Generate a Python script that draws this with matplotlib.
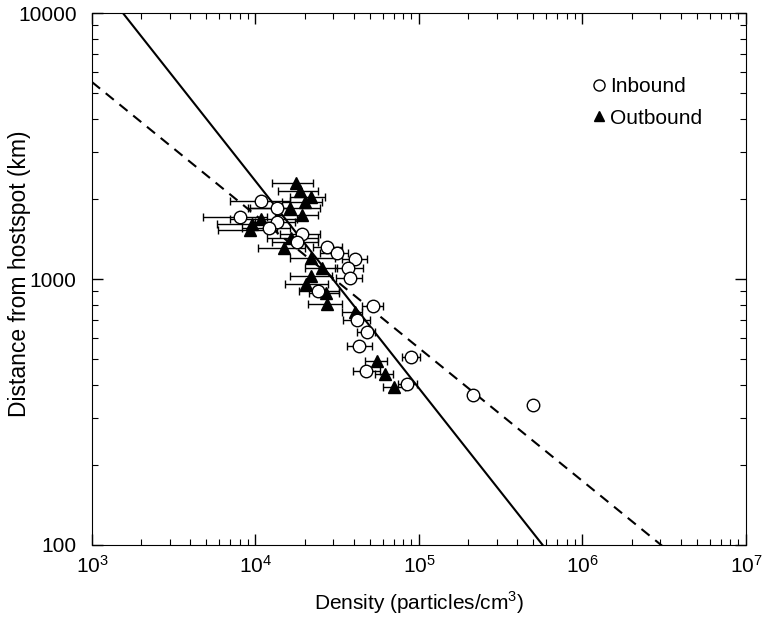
"""
Density vs distance from hotspot, inbound / outbound passes
"""

import numpy as np
import matplotlib
matplotlib.use("Agg")
import matplotlib.pyplot as plt
from matplotlib.ticker import LogLocator, FixedLocator, FixedFormatter, NullFormatter

plt.rcParams['font.family'] = ['Liberation Sans', 'DejaVu Sans']
plt.rcParams['mathtext.fontset'] = 'custom'
plt.rcParams['mathtext.rm'] = 'Liberation Sans'

# DATA

# inbound (open circles)
in_density = [10810, 8040, 13530, 13530, 12100, 19240, 17940, 27370, 31480, 40600,
              36800, 37840, 24120, 52350, 41770, 48100, 43000, 89000, 47420, 84600,
              213800, 497700]
in_dist = [1965, 1711, 1849, 1638, 1556, 1476, 1377, 1318, 1254, 1189,
           1100, 1009, 902, 792, 701, 632, 560, 509, 451, 403,
           366, 336]
in_lo = [6980, 4775, 9250, 9930, 8270, 14120, 12620, 22480, 24800, 33800,
         30700, 31100, 18400, 44900, 34300, 41770, 36300, 79300, 39460, 74900,
         213800, 497700]
in_hi = [16250, 11750, 16250, 17440, 16250, 24800, 24120, 33800, 36800, 48100,
         45400, 44900, 32400, 60500, 50300, 54000, 51620, 101000, 57900, 97000,
         213800, 497700]

# outbound (filled triangles)
out_density = [17690, 18710, 21840, 20070, 16250, 19240, 10810, 9520, 9250, 16480,
               14940, 21840, 25510, 21840, 20370, 26990, 27370, 40600, 55350, 61940,
               70300]
out_dist = [2296, 2142, 2033, 1947, 1849, 1742, 1683, 1610, 1528, 1426,
            1309, 1199, 1100, 1026, 958, 885, 805, 752, 492, 440,
            393]
out_lo = [12620, 13730, 16250, 14520, 9000, 13160, 6980, 5815, 5900, 11750,
          10380, 16250, 20070, 16250, 15150, 21200, 20900, 33800, 46800, 54000,
          60500]
out_hi = [22480, 24120, 26610, 25510, 24800, 24120, 17940, 14120, 13530, 24120,
          20070, 30700, 31480, 29360, 27780, 32400, 33800, 44900, 63800, 69340,
          82500]

# power-law lines  d = A * n**b
SOLID_A, SOLID_B = 3.05e6, -0.779
DASH_A, DASH_B = 1.74e5, -0.5


# PLOT

fig = plt.figure(figsize=(7.69, 6.21), dpi=100)
ax = fig.add_axes([0.1196, 0.1224, 0.8504, 0.8566])

n = np.logspace(3, 7, 400)
ax.plot(n, SOLID_A * n ** SOLID_B, color='black', lw=1.5)
ax.plot(n, DASH_A * n ** DASH_B, color='black', lw=1.5, ls=(0, (5, 3.5)))

in_density = np.array(in_density)
out_density = np.array(out_density)
in_err = [in_density - np.array(in_lo), np.array(in_hi) - in_density]
out_err = [out_density - np.array(out_lo), np.array(out_hi) - out_density]

ax.errorbar(out_density, out_dist, xerr=out_err, fmt='^', color='black',
            ms=8, capsize=3, elinewidth=1, capthick=1)
ax.errorbar(in_density, in_dist, xerr=in_err, fmt='o', mfc='white', mec='black',
            ecolor='black', ms=9, mew=1, capsize=3, elinewidth=1, capthick=1)

ax.set_xscale('log')
ax.set_yscale('log')
ax.set_xlim(1e3, 1e7)
ax.set_ylim(100, 10000)

ax.yaxis.set_major_locator(FixedLocator([100, 1000, 10000]))
ax.yaxis.set_major_formatter(FixedFormatter(['100', '1000', '10000']))
ax.yaxis.set_minor_locator(LogLocator(base=10, subs=np.arange(2, 10)))
ax.yaxis.set_minor_formatter(NullFormatter())
ax.xaxis.set_minor_locator(LogLocator(base=10, subs=np.arange(2, 10)))
ax.xaxis.set_minor_formatter(NullFormatter())

ax.tick_params(which='both', direction='in', top=True, right=True, labelsize=15)
ax.tick_params(which='major', length=8, width=1)
ax.tick_params(which='minor', length=4, width=0.8)
ax.tick_params(axis='x', pad=7)
ax.tick_params(axis='y', pad=11)

ax.set_xlabel('Density (particles/cm$^3$)', fontsize=15, labelpad=9)
ax.set_ylabel('Distance from hostspot (km)', fontsize=16.5)
ax.yaxis.set_label_coords(-0.093, 0.51)

h_in = plt.Line2D([], [], marker='o', ls='', mfc='white', mec='black', ms=8)
h_out = plt.Line2D([], [], marker='^', ls='', color='black', ms=7)
ax.legend([h_in, h_out], ['Inbound', 'Outbound'], frameon=False, fontsize=15,
          loc='upper right', bbox_to_anchor=(0.962, 0.915), handlelength=0.6,
          handletextpad=0.25, labelspacing=0.6)

fig.savefig('out.png', dpi=100)
